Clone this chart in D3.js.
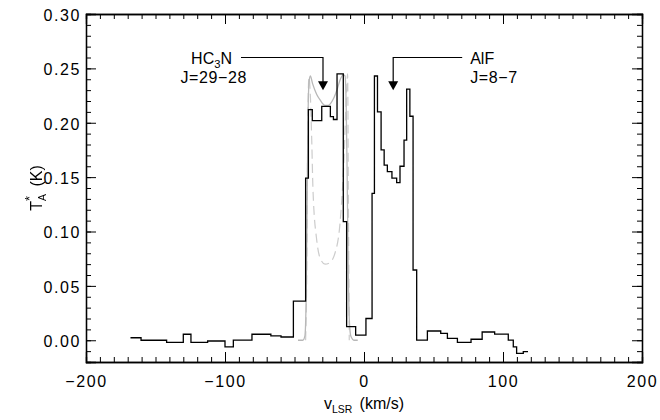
<!DOCTYPE html>
<html>
<head>
<meta charset="utf-8">
<script src="https://cdn.jsdelivr.net/npm/d3@7"></script>
<style>
  body { margin: 0; background: #fff; }
  svg text { font-family: "Liberation Sans", Arial, sans-serif; fill: #000; }
</style>
</head>
<body>
<svg id="chart" width="660" height="420"></svg>
<script>
// observed spectrum: left edge of each channel (km/s) and T_A* (K)
const obsVel = [-168, -160.4, -142, -130, -124.5, -112.5, -100, -94, -80.6, -67, -59.7, -50.8,
  -42, -40, -37.2, -30.4, -24.2, -22, -19.4, -14.9, -12.5, -6, 1.4, 5.8, 7.5, 9.7, 12.3, 14.5,
  16.8, 20.1, 23.5, 25.9, 28.8, 30.7, 33, 35.3, 37.9, 45.6, 55.2, 60, 67.2, 77, 85, 94, 103.8,
  107.4, 109.8, 114.6, 118];
const obsTa = [0.0023, 0.0, -0.002, 0.0055, -0.002, -0.0007, -0.006, 0.0002, 0.0055, 0.004, 0.003, 0.036,
  0.149, 0.212, 0.202, 0.215, 0.2056, 0.203, 0.245, 0.109, 0.0125, 0.0048, 0.020, 0.135, 0.243, 0.210, 0.175, 0.161,
  0.155, 0.149, 0.145, 0.160, 0.184, 0.231, 0.206, 0.0646, 0.0002, 0.0085, 0.0064, 0.0018, -0.002, 0.0009, 0.0076, 0.0057, 0.0002,
  -0.006, -0.012, -0.0105, -0.0105];

// HC3N model profile (solid grey)
const modelVel = [-47.5, -44, -42.5, -41.6, -40.8, -40.2, -39.5, -38.6, -37, -34, -31.6, -28, -25.7, -22,
  -19, -17.3, -15, -13.6, -12.8, -12.1, -11.4, -10.6, -9.5, -7, -4.5];
const modelTa = [0.0, 0.0, 0.004, 0.04, 0.14, 0.21, 0.238, 0.243, 0.236, 0.226, 0.221, 0.216, 0.216, 0.222,
  0.232, 0.239, 0.244, 0.243, 0.215, 0.15, 0.07, 0.02, 0.004, 0.0, 0.0];

// HC3N optically thin profile (dashed grey)
const dashVel = [-42, -41.2, -40.4, -39.6, -38.6, -37.6, -36.7, -34, -31.7, -28, -25, -20.9, -17.3,
  -14.9, -12.5, -11.8, -11.2, -10.6];
const dashTa = [0.0, 0.06, 0.2, 0.242, 0.225, 0.184, 0.138, 0.092, 0.076, 0.070, 0.071, 0.080, 0.107,
  0.153, 0.23, 0.245, 0.12, 0.0];

const xTicks = [-200, -100, 0, 100, 200];
const yTicks = [0.00, 0.05, 0.10, 0.15, 0.20, 0.25, 0.30];

// line labels: arrow velocity, arrowhead tip, bar level
const lineLabels = [
  { name: "HC3N", trans: "J=29\u221228", v: -29.5, tip: 0.230, bar: 0.260, side: "left" },
  { name: "AlF", trans: "J=8\u22127", v: 21, tip: 0.230, bar: 0.260, side: "right" }
];

const svg = d3.select("#chart");
const m = { left: 86, right: 18, top: 14, bottom: 58 };
const W = 660, H = 420;

const x = d3.scaleLinear().domain([-200, 200]).range([m.left, W - m.right]);
const y = d3.scaleLinear().domain([-0.02, 0.30]).range([H - m.bottom, m.top]);

const fs = 16;

// axes with inward ticks, minor ticks every 10 km/s and 0.01 K
const xMinor = d3.range(-200, 201, 10);
const yMinor = d3.range(-0.02, 0.3001, 0.01);

const g = svg.append("g");

const axB = g.append("g").attr("transform", `translate(0,${y.range()[0]})`);
axB.call(d3.axisBottom(x).tickValues(xMinor).tickSize(-5).tickFormat(""));
axB.append("g").call(d3.axisBottom(x).tickValues(xTicks).tickSize(-10)
  .tickFormat(d => d < 0 ? "\u2212" + Math.abs(d) : d));
const axT = g.append("g").attr("transform", `translate(0,${m.top})`);
axT.call(d3.axisTop(x).tickValues(xMinor).tickSize(-5).tickFormat(""));
axT.append("g").call(d3.axisTop(x).tickValues(xTicks).tickSize(-10).tickFormat(""));

const axL = g.append("g").attr("transform", `translate(${m.left},0)`);
axL.call(d3.axisLeft(y).tickValues(yMinor).tickSize(-5).tickFormat(""));
axL.append("g").call(d3.axisLeft(y).tickValues(yTicks).tickSize(-10).tickFormat(d3.format(".2f")));
const axR = g.append("g").attr("transform", `translate(${W - m.right},0)`);
axR.call(d3.axisRight(y).tickValues(yMinor).tickSize(-5).tickFormat(""));
axR.append("g").call(d3.axisRight(y).tickValues(yTicks).tickSize(-10).tickFormat(""));

g.selectAll(".domain").attr("stroke", "#000").attr("stroke-width", 1.3);
g.selectAll(".tick line").attr("stroke", "#000").attr("stroke-width", 1);
g.selectAll(".tick text").attr("font-size", fs).attr("font-family", "Liberation Sans, Arial, sans-serif")
  .attr("letter-spacing", 1.6).attr("fill", "#000");
axB.selectAll(".tick text").attr("dy", "1.05em").attr("y", 8);
axL.selectAll(".tick text").attr("x", -5).attr("dy", "0.4em");

// data
const defs = svg.append("defs");
defs.append("clipPath").attr("id", "clip")
  .append("rect").attr("x", m.left).attr("y", m.top)
  .attr("width", W - m.left - m.right).attr("height", H - m.top - m.bottom);
// no-op filter: rasterise rotated title in greyscale
defs.append("filter").attr("id", "flat")
  .append("feOffset").attr("dx", 0).attr("dy", 0);

const plot = svg.append("g").attr("clip-path", "url(#clip)");

const smooth = d3.line().x(d => x(d[0])).y(d => y(d[1])).curve(d3.curveMonotoneX);
plot.append("path")
  .datum(d3.zip(dashVel, dashTa))
  .attr("d", smooth).attr("fill", "none")
  .attr("stroke", "#cccccc").attr("stroke-width", 1.2).attr("stroke-dasharray", "9,5");
plot.append("path")
  .datum(d3.zip(modelVel, modelTa))
  .attr("d", smooth).attr("fill", "none")
  .attr("stroke", "#b8b8b8").attr("stroke-width", 1.3);

const step = d3.line().x(d => x(d[0])).y(d => y(d[1])).curve(d3.curveStepAfter);
plot.append("path")
  .datum(d3.zip(obsVel, obsTa))
  .attr("d", step).attr("fill", "none")
  .attr("stroke", "#000").attr("stroke-width", 1.3);

// line identification labels
const ann = svg.append("g");
lineLabels.forEach(l => {
  const ax = x(l.v), barY = y(l.bar), tipY = y(l.tip);
  const far = l.side === "left" ? ax - 82 : ax + 69;
  ann.append("path")
    .attr("d", `M${far},${barY}H${ax}V${tipY - 8}`)
    .attr("fill", "none").attr("stroke", "#000").attr("stroke-width", 1.2);
  ann.append("path")
    .attr("d", `M${ax - 5},${tipY - 9}L${ax + 5},${tipY - 9}L${ax},${tipY}Z`)
    .attr("fill", "#000");
  const tx = l.side === "left" ? far - 9 : far + 8;
  const anchor = l.side === "left" ? "end" : "start";
  const t1 = ann.append("text").attr("x", tx).attr("y", barY + 6)
    .attr("font-size", fs).attr("text-anchor", anchor);
  if (l.name === "HC3N") {
    t1.append("tspan").text("HC");
    t1.append("tspan").text("3").attr("font-size", fs * 0.7).attr("dy", 4);
    t1.append("tspan").text("N").attr("dy", -4);
  } else {
    t1.text(l.name);
  }
  ann.append("text")
    .attr("x", l.side === "left" ? tx + 15 : tx)
    .attr("y", barY + 25)
    .attr("font-size", fs).attr("text-anchor", anchor)
    .attr("letter-spacing", 0.6)
    .text(l.trans);
});

// axis titles
const xt = svg.append("text").attr("x", x(0)).attr("y", 409)
  .attr("text-anchor", "middle").attr("font-size", fs);
xt.append("tspan").text("v");
xt.append("tspan").text("LSR").attr("font-size", fs * 0.65).attr("dy", 4);
xt.append("tspan").text("\u00a0(km/s)").attr("dx", 3).attr("dy", -4);

const yt = svg.append("g")
  .attr("filter", "url(#flat)")
  .append("text")
  .attr("transform", `translate(42,${y(0.14)}) rotate(-90)`)
  .attr("text-anchor", "middle").attr("font-size", fs).attr("fill", "#000");
yt.append("tspan").text("T");
yt.append("tspan").text("A").attr("font-size", fs * 0.65).attr("dy", 4);
yt.append("tspan").text("*").attr("font-size", fs * 0.8).attr("dx", -7).attr("dy", -12);
yt.append("tspan").text("\u00a0(K)").attr("dx", 5).attr("dy", 8);
</script>
</body>
</html>
